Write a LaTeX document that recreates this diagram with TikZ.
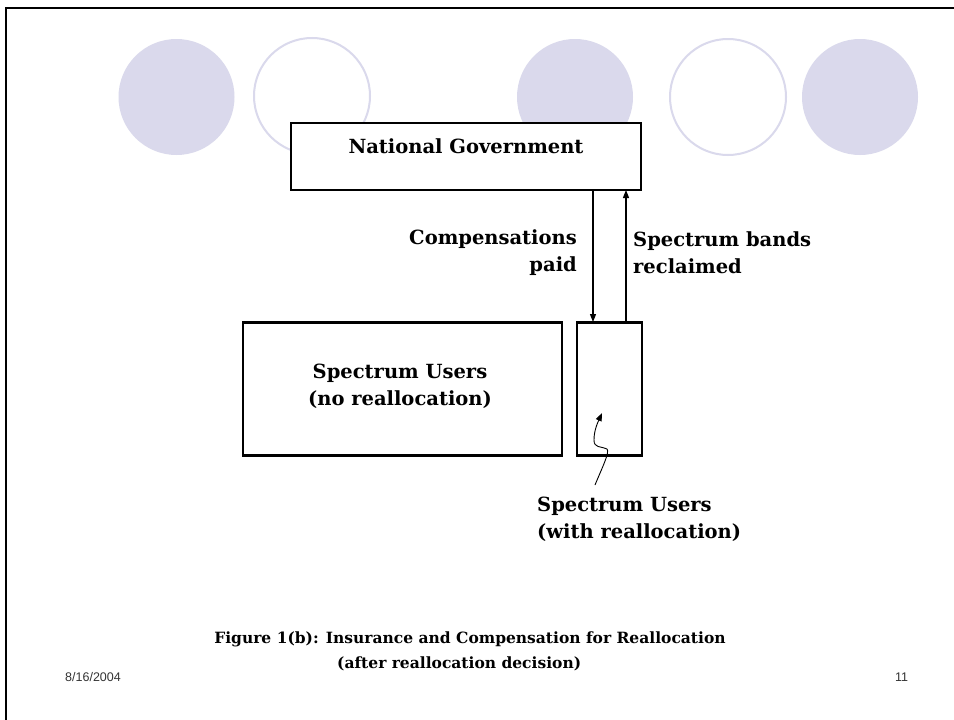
\documentclass[tikz,border=0pt]{standalone}
\usepackage{fontspec}
\setmainfont{DejaVu Serif}
\newfontfamily\footfont{Liberation Sans}
\usetikzlibrary{arrows.meta}
\definecolor{lav}{HTML}{DAD9EC}
\tikzset{
  fillcirc/.style={fill=lav, draw=none},
  ringcirc/.style={draw=lav, line width=2pt, fill=white},
  boxn/.style={draw=black, line width=2.4pt, fill=white},
  lbl/.style={font=\bfseries\fontsize{19.5}{27}\selectfont, inner sep=0pt},
  arr/.style={line width=1.3pt, -{Triangle[length=8pt,width=6pt]}},
  foot/.style={font=\footfont\fontsize{12.5}{14}\selectfont, text=black!80, inner sep=0pt}
}
\begin{document}
\begin{tikzpicture}[x=1pt,y=-1pt]
\useasboundingbox (0,0) rectangle (954,720);
\fill[white] (0,0) rectangle (954,720);
\draw[line width=2.4pt] (6,720) -- (6,8) -- (954,8);
% circles
\fill[fillcirc] (176.5,97) ellipse (58 and 58);
\draw[ringcirc] (312,96) ellipse (58 and 58);
\fill[fillcirc] (575,97) ellipse (58 and 58);
\draw[ringcirc] (728,97) ellipse (58 and 58);
\fill[fillcirc] (860,97) ellipse (58 and 58);
% boxes
\node[boxn, minimum width=350pt, minimum height=67pt, inner sep=0pt] (ng) at (466,156.5) {};
\node[lbl] (ngt) at (466,146) {National Government};
\node[boxn, minimum width=319pt, minimum height=133pt, inner sep=0pt] (su) at (402.5,389) {};
\node[lbl, align=center] (sut) at (400,386) {Spectrum Users\\(no reallocation)};
\node[boxn, minimum width=65pt, minimum height=133pt, inner sep=0pt] (sw) at (609.5,389) {};
% arrows
\coordinate (d1) at (593,190);
\coordinate (d2) at (593,322);
\coordinate (u1) at (626,322);
\coordinate (u2) at (626,190);
\draw[arr] (d1) -- (d2);
\draw[arr] (u1) -- (u2);
\node[lbl, align=right, anchor=east] (cp) at (577,253) {Compensations\\paid};
\node[lbl, align=left, anchor=west] (sb) at (633,253) {Spectrum bands\\reclaimed};
% squiggle
\coordinate (s0) at (595,485);
\coordinate (s1) at (602,413);
\draw[line width=0.9pt, -{Triangle[length=8pt,width=6pt]}] (s0) .. controls (602,468) and (610,452) .. (607,449) .. controls (600,446) and (594,448) .. (594,440) .. controls (594,430) and (598,422) .. (s1);
\node[lbl, align=left, anchor=west] (swt) at (537,519) {Spectrum Users\\(with reallocation)};
% caption
\node[lbl, font=\bfseries\fontsize{15.5}{25}\selectfont] (cap1) at (470,639) {Figure 1(b): Insurance and Compensation for Reallocation};
\node[lbl, font=\bfseries\fontsize{15.5}{25}\selectfont, anchor=west] (cap2) at (337,664) {(after reallocation decision)};
\node[foot, anchor=west] (date) at (65,677) {8/16/2004};
\node[foot, anchor=west] (pg) at (895,677) {11};
\end{tikzpicture}
\end{document}
